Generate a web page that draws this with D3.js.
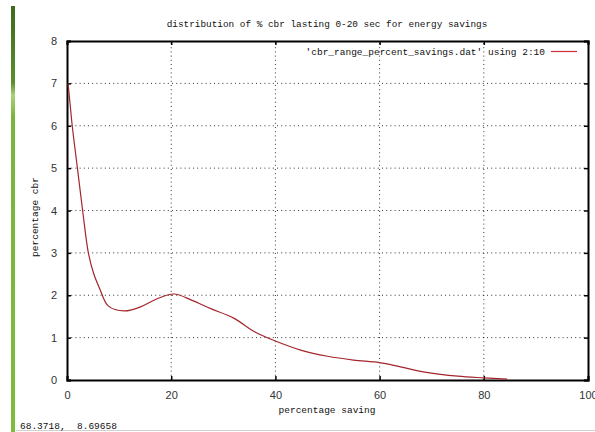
<!DOCTYPE html>
<html>
<head>
<meta charset="utf-8">
<script src="https://cdn.jsdelivr.net/npm/d3@7"></script>
<style>
  body { margin: 0; background: #fff; }
  svg { display: block; }
</style>
</head>
<body>
<script>
// gnuplot style plot of cbr distribution vs energy saving

var width = 595,
    height = 432;

var title = "distribution of % cbr lasting 0-20 sec for energy savings";
var legendLabel = "'cbr_range_percent_savings.dat' using 2:10";
var xLabel = "percentage saving";
var yLabel = "percentage cbr";
var statusText = "68.3718,  8.69658";

var xTicks = [0, 20, 40, 60, 80, 100];
var yTicks = [0, 1, 2, 3, 4, 5, 6, 7, 8];

var savings = [0.2, 0.6, 1, 2, 3, 4.1, 5.1, 6.3, 7.9, 11, 14, 17, 20.5, 24, 27.5, 32, 36, 40, 45, 50, 55, 60, 64, 69, 75, 80, 84.5];
var cbr     = [7.0, 6.5, 6.0, 5.0, 4.0, 3.0, 2.52, 2.15, 1.75, 1.63, 1.72, 1.9, 2.03, 1.88, 1.69, 1.46, 1.14, 0.92, 0.70, 0.56, 0.47, 0.41, 0.31, 0.18, 0.09, 0.05, 0.02];

var svg = d3.select("body")
    .append("svg")
    .attr("width", width)
    .attr("height", height);

// green window edge on the left
var grad = svg.append("defs").append("linearGradient")
    .attr("id", "edge")
    .attr("x1", 0).attr("y1", 0).attr("x2", 0).attr("y2", 1);
grad.append("stop").attr("offset", "0%").attr("stop-color", "#3d6a1c");
grad.append("stop").attr("offset", "18%").attr("stop-color", "#5a8f2e");
grad.append("stop").attr("offset", "21%").attr("stop-color", "#a9d27a");
grad.append("stop").attr("offset", "26%").attr("stop-color", "#79b43c");
grad.append("stop").attr("offset", "100%").attr("stop-color", "#7cbd3a");

svg.append("rect")
    .attr("x", 11).attr("y", 6)
    .attr("width", 4).attr("height", height - 6)
    .attr("fill", "url(#edge)");

svg.append("line")
    .attr("x1", 16).attr("x2", width)
    .attr("y1", 430.5).attr("y2", 430.5)
    .attr("stroke", "#d0d0d0");

var x = d3.scaleLinear().domain([0, 100]).range([67, 588]);
var y = d3.scaleLinear().domain([0, 8]).range([380, 41]);

// grid
svg.selectAll(".gx")
    .data(xTicks.filter(function(d){ return d > 0 && d < 100; }))
    .enter().append("line")
    .attr("x1", function(d){ return x(d); })
    .attr("x2", function(d){ return x(d); })
    .attr("y1", y(0)).attr("y2", y(8))
    .attr("stroke", "#000")
    .attr("stroke-width", 0.8)
    .attr("stroke-dasharray", "1,3.2");

svg.selectAll(".gy")
    .data(yTicks.filter(function(d){ return d > 0 && d < 8; }))
    .enter().append("line")
    .attr("x1", x(0)).attr("x2", x(100))
    .attr("y1", function(d){ return y(d); })
    .attr("y2", function(d){ return y(d); })
    .attr("stroke", "#000")
    .attr("stroke-width", 0.8)
    .attr("stroke-dasharray", "1,3.2");

// axes with inward ticks on all sides
var tickFont = "'Liberation Sans', Arial, sans-serif";

var axBottom = svg.append("g")
    .attr("transform", "translate(0," + y(0) + ")")
    .call(d3.axisBottom(x).tickValues(xTicks).tickSize(-4).tickPadding(11));
var axTop = svg.append("g")
    .attr("transform", "translate(0," + y(8) + ")")
    .call(d3.axisTop(x).tickValues(xTicks).tickSize(-4).tickFormat(""));
var axLeft = svg.append("g")
    .attr("transform", "translate(" + x(0) + ",0)")
    .call(d3.axisLeft(y).tickValues(yTicks).tickSize(-4).tickPadding(10));
var axRight = svg.append("g")
    .attr("transform", "translate(" + x(100) + ",0)")
    .call(d3.axisRight(y).tickValues(yTicks).tickSize(-4).tickFormat(""));

[axBottom, axTop, axLeft, axRight].forEach(function(g){
  g.select(".domain").attr("stroke", "#000").attr("stroke-width", 2);
  g.selectAll(".tick line").attr("stroke", "#000").attr("stroke-width", 1.5);
  g.selectAll("text")
    .attr("font-family", tickFont)
    .attr("font-size", 11)
    .attr("fill", "#333");
});

// the curve
var pts = savings.map(function(s, i){ return [s, cbr[i]]; });
var line = d3.line()
    .x(function(d){ return x(d[0]); })
    .y(function(d){ return y(d[1]); })
    .curve(d3.curveCatmullRom.alpha(0.5));

svg.append("path")
    .datum(pts)
    .attr("d", line)
    .attr("fill", "none")
    .attr("stroke", "#a3262c")
    .attr("stroke-width", 1.2);

// texts
var mono = "'Liberation Mono', 'DejaVu Sans Mono', monospace";

svg.append("text")
    .attr("x", 327).attr("y", 27)
    .attr("text-anchor", "middle")
    .attr("font-family", mono)
    .attr("font-size", 9.4)
    .attr("fill", "#111")
    .text(title);

svg.append("text")
    .attr("x", 545).attr("y", 55)
    .attr("text-anchor", "end")
    .attr("font-family", mono)
    .attr("font-size", 9.5)
    .attr("fill", "#111")
    .text(legendLabel);

svg.append("line")
    .attr("x1", 551).attr("x2", 577)
    .attr("y1", 51.5).attr("y2", 51.5)
    .attr("stroke", "#cc2f36")
    .attr("stroke-width", 1.2);

svg.append("text")
    .attr("x", 327).attr("y", 413)
    .attr("text-anchor", "middle")
    .attr("font-family", mono)
    .attr("font-size", 9.5)
    .attr("fill", "#111")
    .text(xLabel);

svg.append("text")
    .attr("transform", "translate(38,217) rotate(-90)")
    .attr("text-anchor", "middle")
    .attr("font-family", mono)
    .attr("font-size", 9.5)
    .attr("fill", "#111")
    .text(yLabel);

svg.append("text")
    .attr("x", 20).attr("y", 429)
    .attr("font-family", mono)
    .attr("font-size", 9.5)
    .attr("fill", "#111")
    .attr("xml:space", "preserve")
    .style("white-space", "pre")
    .text(statusText);
</script>
</body>
</html>
